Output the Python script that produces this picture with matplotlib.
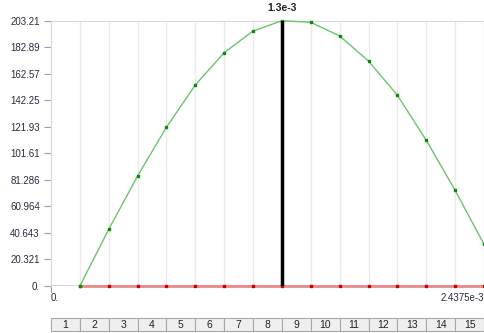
import numpy as np
import matplotlib.pyplot as plt
from matplotlib.patches import Rectangle

plt.rcParams['font.family'] = ['Liberation Sans', 'DejaVu Sans']

# data
x_step = 1.625e-4
x_max_label = "2.4375e-3"
idx = [1, 2, 3, 4, 5, 6, 7, 8, 9, 10, 11, 12, 13, 14, 15]
green = [0.0, 43.4, 84.3, 121.6, 154.0, 178.7, 195.3, 203.2, 202.0, 191.5, 172.3, 146.1, 111.6, 73.3, 31.9]
red = [0.0] * 15
marker_idx = 8
marker_label = "1.3e-3"
yticks = [0, 20.321, 40.643, 60.964, 81.286, 101.61, 121.93, 142.25, 162.57, 182.89, 203.21]
ylabels = ["0.", "20.321", "40.643", "60.964", "81.286", "101.61", "121.93", "142.25", "162.57", "182.89", "203.21"]
cells = [str(i) for i in idx]

W, H = 484, 333
fig = plt.figure(figsize=(W / 100, H / 100), dpi=100)
ax = fig.add_axes([51 / W, 1 - 286 / H, (484 - 51) / W, (286 - 20.7) / H])
ax.set_xlim(0, 15)
ax.set_ylim(0, 203.21)

grid_c = '#ebebeb'
for k in range(1, 16):
    ax.axvline(k, color=grid_c, lw=1, zorder=0)

ax.plot(idx, red, color='#e88a8a', lw=2, zorder=2, clip_on=False)
ax.plot(idx, red, ls='none', marker='s', ms=1.6, color='#cc0000', zorder=3, clip_on=False)
ax.plot(idx, green, color='#6cc46c', lw=1, zorder=4, clip_on=False)
ax.plot(idx, green, ls='none', marker='s', ms=1.6, color='#0a8a0a', zorder=5, clip_on=False)
ax.axvline(marker_idx, color='black', lw=2.5, zorder=6)
ax.text(marker_idx, 203.21 + 6, marker_label, ha='center', va='bottom', fontsize=7.5,
        fontweight='bold', color='#222222')

for s in ['right', 'bottom']:
    ax.spines[s].set_visible(False)
ax.spines['left'].set_color('#d8d8d8')
ax.spines['top'].set_color('#d8d8d8')
ax.axhline(0, color='#d8d8d8', lw=1.5, zorder=1)

ax.set_yticks(yticks)
ax.set_yticklabels(ylabels)
ax.tick_params(axis='y', length=5, color='#a0a0a0', labelsize=7, labelcolor='#2a2a40', pad=3)
ax.set_xticks([0])
ax.set_xticklabels([])
ax.tick_params(axis='x', length=5, color='#a0a0a0')
ax.text(0, -5, "0.", ha='left', va='top', fontsize=7, color='#2a2a40')
ax.text(15, -5, x_max_label, ha='right', va='top', fontsize=7, color='#2a2a40')

tab = fig.add_axes([51 / W, 1 - 330.7 / H, (484 - 51) / W, (330.7 - 318.3) / H])
tab.set_xlim(0, 15)
tab.set_ylim(0, 1)
tab.axis('off')
for i, c in enumerate(cells):
    tab.add_patch(Rectangle((i, 0), 1, 1, facecolor='#efefef', edgecolor='#a8a8a8', lw=0.8, clip_on=False))
    tab.text(i + 0.5, 0.45, c, ha='center', va='center', fontsize=7.5, color='#222222')

fig.savefig('out.png', dpi=100)
